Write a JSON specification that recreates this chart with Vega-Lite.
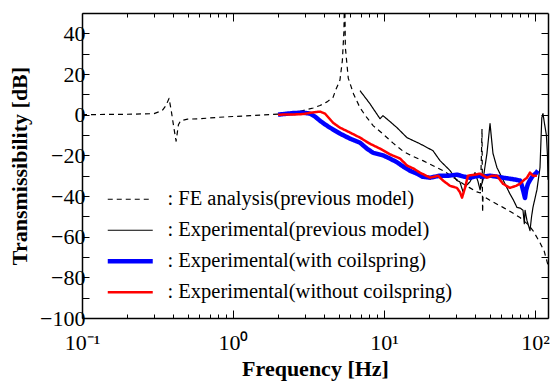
{
  "$schema": "https://vega.github.io/schema/vega-lite/v6.json",
  "width": 466,
  "height": 305,
  "autosize": {"type": "none"},
  "padding": {"left": 82, "top": 13, "right": 2, "bottom": 65},
  "background": "white",
  "config": {
    "font": "Liberation Serif",
    "view": {"stroke": null},
    "axis": {"domainColor": "black", "domainWidth": 1.5, "tickColor": "black", "tickWidth": 1, "labelColor": "black", "titleColor": "black", "labelFont": "Liberation Serif", "titleFont": "Liberation Serif", "grid": false},
    "legend": {"title": null, "orient": "none", "legendX": 38, "legendY": 176, "symbolType": "M-3,0H3", "symbolSize": 225, "labelFontSize": 20.5, "labelFont": "Liberation Serif", "labelColor": "black", "labelOffset": 27, "rowPadding": 10, "padding": 0, "labelLimit": 400}
  },
  "data": {"values": [
    {"s":"FE","f":0.1,"v":0},{"s":"FE","f":0.2,"v":0.2},{"s":"FE","f":0.3,"v":0.5},{"s":"FE","f":0.34,"v":2},{"s":"FE","f":0.36,"v":4.5},{"s":"FE","f":0.377,"v":8},{"s":"FE","f":0.39,"v":2},{"s":"FE","f":0.405,"v":-6},{"s":"FE","f":0.42,"v":-13},{"s":"FE","f":0.435,"v":-5},{"s":"FE","f":0.45,"v":-3},{"s":"FE","f":0.5,"v":-2.2},{"s":"FE","f":0.6,"v":-2},{"s":"FE","f":0.8,"v":-1.3},{"s":"FE","f":1.0,"v":-0.9},{"s":"FE","f":1.3,"v":-0.5},{"s":"FE","f":1.76,"v":0},{"s":"FE","f":2.5,"v":0.8},{"s":"FE","f":2.91,"v":2},{"s":"FE","f":3.4,"v":3.3},{"s":"FE","f":3.77,"v":4.5},{"s":"FE","f":4.2,"v":6.3},{"s":"FE","f":4.6,"v":8.5},{"s":"FE","f":4.77,"v":11.8},{"s":"FE","f":5.11,"v":17},{"s":"FE","f":5.3,"v":26.5},{"s":"FE","f":5.43,"v":41},{"s":"FE","f":5.49,"v":62},{"s":"FE","f":5.55,"v":33},{"s":"FE","f":5.8,"v":18},{"s":"FE","f":6.3,"v":10},{"s":"FE","f":6.94,"v":3.4},{"s":"FE","f":7.71,"v":-1.5},{"s":"FE","f":8.5,"v":-5.5},{"s":"FE","f":9.85,"v":-9.5},{"s":"FE","f":11.5,"v":-14},{"s":"FE","f":13.4,"v":-18},{"s":"FE","f":15.5,"v":-20.5},{"s":"FE","f":18.1,"v":-22.6},{"s":"FE","f":21,"v":-25},{"s":"FE","f":24.6,"v":-27.5},{"s":"FE","f":29,"v":-31},{"s":"FE","f":33.4,"v":-34},{"s":"FE","f":37.1,"v":-36},{"s":"FE","f":41.3,"v":-38},{"s":"FE","f":43.5,"v":-38.5},{"s":"FE","f":44.2,"v":-20},{"s":"FE","f":44.6,"v":-7},{"s":"FE","f":44.8,"v":-30},{"s":"FE","f":45.0,"v":-48},{"s":"FE","f":45.3,"v":-40},{"s":"FE","f":50,"v":-42},{"s":"FE","f":61.4,"v":-45.6},{"s":"FE","f":70,"v":-48},{"s":"FE","f":79.6,"v":-50.6},{"s":"FE","f":90,"v":-54},{"s":"FE","f":97,"v":-57},{"s":"FE","f":108,"v":-63},{"s":"FE","f":115,"v":-67},{"s":"FE","f":120,"v":-72},{"s":"FE","f":122,"v":-74},
    {"s":"EP","f":6.94,"v":11.8},{"s":"EP","f":8.07,"v":5.4},{"s":"EP","f":9.41,"v":-2},{"s":"EP","f":9.85,"v":-0.5},{"s":"EP","f":11,"v":-3.5},{"s":"EP","f":12.2,"v":-6.4},{"s":"EP","f":14.2,"v":-11.3},{"s":"EP","f":17.3,"v":-14.3},{"s":"EP","f":21.1,"v":-17.7},{"s":"EP","f":23.5,"v":-22.6},{"s":"EP","f":27.4,"v":-27.5},{"s":"EP","f":30.4,"v":-32.4},{"s":"EP","f":31.8,"v":-33},{"s":"EP","f":33.4,"v":-38},{"s":"EP","f":35,"v":-35},{"s":"EP","f":37.1,"v":-33},{"s":"EP","f":40.1,"v":-28.5},{"s":"EP","f":42,"v":-33},{"s":"EP","f":43.3,"v":-37},{"s":"EP","f":45.3,"v":-32},{"s":"EP","f":48.1,"v":-19},{"s":"EP","f":50.4,"v":-4.4},{"s":"EP","f":52.7,"v":-19},{"s":"EP","f":56,"v":-26},{"s":"EP","f":61.4,"v":-32},{"s":"EP","f":68.3,"v":-39},{"s":"EP","f":72,"v":-42},{"s":"EP","f":76,"v":-45.6},{"s":"EP","f":80,"v":-46},{"s":"EP","f":83.3,"v":-47},{"s":"EP","f":85,"v":-53.6},{"s":"EP","f":86,"v":-47},{"s":"EP","f":88.5,"v":-52},{"s":"EP","f":92.7,"v":-57},{"s":"EP","f":95,"v":-50},{"s":"EP","f":97,"v":-45.6},{"s":"EP","f":103,"v":-37},{"s":"EP","f":108,"v":-26},{"s":"EP","f":111,"v":-1.5},{"s":"EP","f":113,"v":0.5},{"s":"EP","f":116,"v":-5},{"s":"EP","f":119,"v":-10},{"s":"EP","f":121,"v":-20},{"s":"EP","f":122,"v":-32},
    {"s":"EC","f":1.99,"v":0},{"s":"EC","f":2.5,"v":0.8},{"s":"EC","f":2.91,"v":1},{"s":"EC","f":3.24,"v":0.5},{"s":"EC","f":3.5,"v":-1},{"s":"EC","f":3.77,"v":-3},{"s":"EC","f":4.07,"v":-4.8},{"s":"EC","f":4.39,"v":-6.4},{"s":"EC","f":5.11,"v":-9.3},{"s":"EC","f":5.96,"v":-11.8},{"s":"EC","f":6.94,"v":-13.8},{"s":"EC","f":7.71,"v":-16.7},{"s":"EC","f":8.45,"v":-18.7},{"s":"EC","f":9.85,"v":-20},{"s":"EC","f":10.96,"v":-21.6},{"s":"EC","f":12.2,"v":-23.4},{"s":"EC","f":13.4,"v":-25.5},{"s":"EC","f":14.8,"v":-27.5},{"s":"EC","f":16.5,"v":-29},{"s":"EC","f":18,"v":-30.5},{"s":"EC","f":20.2,"v":-31},{"s":"EC","f":23.5,"v":-30},{"s":"EC","f":27,"v":-30},{"s":"EC","f":30.4,"v":-29.5},{"s":"EC","f":34,"v":-30.5},{"s":"EC","f":37.1,"v":-31},{"s":"EC","f":42,"v":-30},{"s":"EC","f":45,"v":-30.5},{"s":"EC","f":50.4,"v":-30},{"s":"EC","f":56,"v":-30.5},{"s":"EC","f":61.4,"v":-31},{"s":"EC","f":68.3,"v":-31.5},{"s":"EC","f":75,"v":-32},{"s":"EC","f":79.6,"v":-32.4},{"s":"EC","f":82,"v":-35},{"s":"EC","f":83.3,"v":-37},{"s":"EC","f":85.9,"v":-41},{"s":"EC","f":87.5,"v":-37},{"s":"EC","f":89.9,"v":-34},{"s":"EC","f":93,"v":-32},{"s":"EC","f":97,"v":-30},{"s":"EC","f":101,"v":-29},{"s":"EC","f":104.7,"v":-27.5},
    {"s":"EN","f":1.99,"v":0},{"s":"EN","f":2.5,"v":0.1},{"s":"EN","f":2.91,"v":0.3},{"s":"EN","f":3.3,"v":1},{"s":"EN","f":3.77,"v":1.5},{"s":"EN","f":4.07,"v":0.5},{"s":"EN","f":4.3,"v":-1.5},{"s":"EN","f":4.6,"v":-4},{"s":"EN","f":5.11,"v":-6.4},{"s":"EN","f":5.96,"v":-8.8},{"s":"EN","f":6.94,"v":-11.3},{"s":"EN","f":8.07,"v":-14.3},{"s":"EN","f":9.41,"v":-16.7},{"s":"EN","f":10.96,"v":-19.5},{"s":"EN","f":12.8,"v":-21.6},{"s":"EN","f":14.2,"v":-25},{"s":"EN","f":15.7,"v":-26.5},{"s":"EN","f":17.3,"v":-28.5},{"s":"EN","f":20.2,"v":-31},{"s":"EN","f":21.5,"v":-30.5},{"s":"EN","f":22.8,"v":-30},{"s":"EN","f":24.6,"v":-32.4},{"s":"EN","f":27.4,"v":-35},{"s":"EN","f":30.4,"v":-36},{"s":"EN","f":31.8,"v":-38},{"s":"EN","f":32.9,"v":-40.8},{"s":"EN","f":34.4,"v":-36},{"s":"EN","f":36,"v":-30},{"s":"EN","f":40,"v":-29.5},{"s":"EN","f":43.3,"v":-29},{"s":"EN","f":48.1,"v":-31},{"s":"EN","f":52,"v":-30},{"s":"EN","f":56,"v":-30},{"s":"EN","f":61.4,"v":-34},{"s":"EN","f":68.3,"v":-36},{"s":"EN","f":75,"v":-35},{"s":"EN","f":79.6,"v":-34},{"s":"EN","f":85,"v":-32},{"s":"EN","f":88.5,"v":-31},{"s":"EN","f":92.7,"v":-28.5},{"s":"EN","f":97,"v":-30},{"s":"EN","f":103,"v":-30}
  ]},
  "resolve": {"axis": {"x": "independent", "y": "independent"}},
  "layer": [
    {
      "mark": {"type": "line", "clip": true, "strokeCap": "butt", "strokeJoin": "round"},
      "encoding": {
        "x": {"field": "f", "type": "quantitative", "scale": {"type": "log", "domain": [0.1, 122], "nice": false},
          "axis": {"orient": "bottom", "values": [0.1,0.2,0.3,0.4,0.5,0.6,0.7,0.8,0.9,1,2,3,4,5,6,7,8,9,10,20,30,40,50,60,70,80,90,100],
            "labelExpr": "datum.value == 0.1 ? '10⁻¹' : datum.value == 1 ? '10⁰' : datum.value == 10 ? '10¹' : datum.value == 100 ? '10²' : ''",
            "tickSize": {"condition": {"test": "datum.value == 0.1 || datum.value == 1 || datum.value == 10 || datum.value == 100", "value": -8}, "value": -4},
            "labelFontSize": 22, "labelPadding": 22, "labelOverlap": false, "labelFlush": false,
            "title": "Frequency [Hz]", "titleFontSize": 22, "titleFontWeight": "bold", "titleY": 57, "titleBaseline": "alphabetic"}},
        "y": {"field": "v", "type": "quantitative", "scale": {"domain": [-100, 50], "nice": false},
          "axis": {"orient": "left", "values": [-100,-90,-80,-70,-60,-50,-40,-30,-20,-10,0,10,20,30,40],
            "labelExpr": "datum.value % 20 == 0 ? datum.label : ''",
            "tickSize": -7, "labelFontSize": 22, "labelPadding": 4, "labelOverlap": false, "labelFlush": false,
            "title": "Transmissibility [dB]", "titleFontSize": 22, "titleFontWeight": "bold", "titlePadding": 8}},
        "color": {"field": "s", "type": "nominal",
          "scale": {"domain": ["FE","EP","EC","EN"], "range": ["#000000","#000000","#0000ff","#ff0000"]},
          "legend": {"labelExpr": "datum.label == 'FE' ? ': FE analysis(previous model)' : datum.label == 'EP' ? ': Experimental(previous model)' : datum.label == 'EC' ? ': Experimental(with coilspring)' : ': Experimental(without coilspring)'"}},
        "strokeDash": {"field": "s", "type": "nominal",
          "scale": {"domain": ["FE","EP","EC","EN"], "range": [[5,4],[1,0],[1,0],[1,0]]},
          "legend": {"labelExpr": "datum.label == 'FE' ? ': FE analysis(previous model)' : datum.label == 'EP' ? ': Experimental(previous model)' : datum.label == 'EC' ? ': Experimental(with coilspring)' : ': Experimental(without coilspring)'"}},
        "strokeWidth": {"field": "s", "type": "ordinal",
          "scale": {"type": "ordinal", "domain": ["FE","EP","EC","EN"], "range": [1.2,1.2,4.5,2.5]},
          "legend": {"labelExpr": "datum.label == 'FE' ? ': FE analysis(previous model)' : datum.label == 'EP' ? ': Experimental(previous model)' : datum.label == 'EC' ? ': Experimental(with coilspring)' : ': Experimental(without coilspring)'"}}
      }
    },
    {
      "mark": {"type": "point", "opacity": 0},
      "encoding": {
        "x": {"field": "f", "type": "quantitative", "scale": {"type": "log", "domain": [0.1, 122], "nice": false},
          "axis": {"orient": "top", "values": [0.1,0.2,0.3,0.4,0.5,0.6,0.7,0.8,0.9,1,2,3,4,5,6,7,8,9,10,20,30,40,50,60,70,80,90,100],
            "labels": false, "title": null,
            "tickSize": {"condition": {"test": "datum.value == 0.1 || datum.value == 1 || datum.value == 10 || datum.value == 100", "value": -8}, "value": -4}}},
        "y": {"field": "v", "type": "quantitative", "scale": {"domain": [-100, 50], "nice": false},
          "axis": {"orient": "right", "values": [-100,-90,-80,-70,-60,-50,-40,-30,-20,-10,0,10,20,30,40],
            "labels": false, "title": null, "tickSize": -7}}
      }
    }
  ]
}
